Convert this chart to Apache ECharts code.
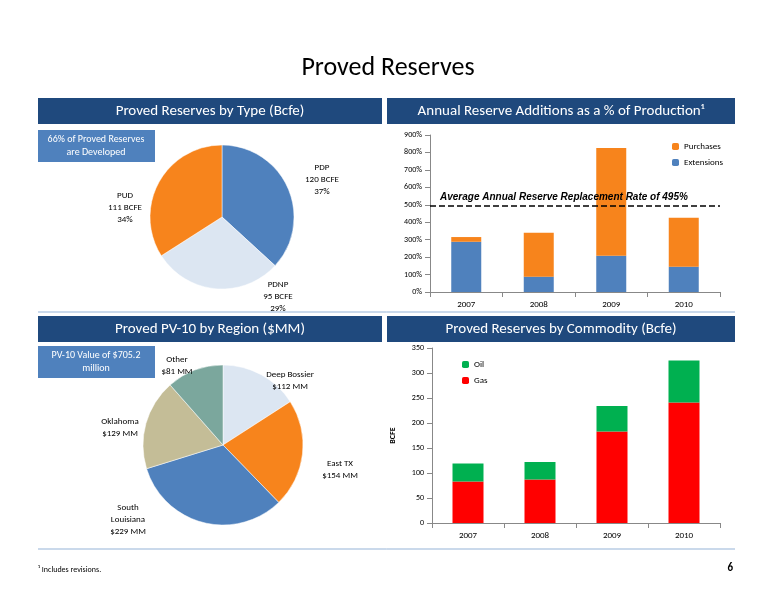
<!DOCTYPE html>
<html><head><meta charset="utf-8">
<script src="https://cdn.jsdelivr.net/npm/echarts@6/dist/echarts.min.js"></script>
<style>html,body{margin:0;padding:0;background:#fff}#main{width:776px;height:600px}</style>
</head><body><div id="main"></div>
<script>
var years = ['2007', '2008', '2009', '2010'];
var extensions = [288, 88, 208, 145];
var purchases = [27, 252, 617, 280];
var gas = [83, 87, 183, 241];
var oil = [36, 35, 51, 84];
var typeNames = ['PDP', 'PDNP', 'PUD'];
var typeValues = [120, 95, 111];
var regionNames = ['Deep Bossier', 'East TX', 'South Louisiana', 'Oklahoma', 'Other'];
var regionValues = [112, 154, 229, 129, 81];

var chartDom = document.getElementById('main');
var myChart = echarts.init(chartDom);
var font = 'Carlito, "Open Sans", sans-serif';
var navy = '#1F497D';

function header(x, y, w, text) {
    return [
        { type: 'rect', shape: { x: x, y: y, width: w, height: 26 }, style: { fill: navy } },
        { type: 'text', x: x + w / 2, y: y + 13, style: { text: text, fill: '#fff', font: '15px ' + font, align: 'center', verticalAlign: 'middle' } }
    ];
}
var typeLabelPos = [[322, 180], [278, 297], [125, 208]];
var regionLabelPos = [[290, 381], [340, 470], [128, 520], [120, 428], [177, 366]];
var typeTotal = typeValues.reduce(function (a, b) { return a + b; }, 0);

var option = {
    animation: false,
    textStyle: { fontFamily: font },
    graphic: [].concat(
        [{ type: 'text', x: 388, y: 68, style: { text: 'Proved Reserves', font: '26px ' + font, fill: '#000', align: 'center', verticalAlign: 'middle' } }],
        header(38, 98, 344, 'Proved Reserves by Type (Bcfe)'),
        header(387, 98, 348, 'Annual Reserve Additions as a % of Production¹'),
        header(38, 316, 344, 'Proved PV-10 by Region ($MM)'),
        header(387, 316, 348, 'Proved Reserves by Commodity (Bcfe)'),
        [
            { type: 'rect', shape: { x: 38, y: 130, width: 117, height: 32 }, style: { fill: '#4F81BD' } },
            { type: 'text', x: 96, y: 146, style: { text: '66% of Proved Reserves\nare Developed', fill: '#fff', font: '10px ' + font, align: 'center', verticalAlign: 'middle', lineHeight: 13 } },
            { type: 'rect', shape: { x: 38, y: 346, width: 117, height: 32 }, style: { fill: '#4F81BD' } },
            { type: 'text', x: 96, y: 362, style: { text: 'PV-10 Value of $705.2\nmillion', fill: '#fff', font: '10px ' + font, align: 'center', verticalAlign: 'middle', lineHeight: 13 } },
            { type: 'line', shape: { x1: 38, y1: 312, x2: 735, y2: 312 }, style: { stroke: '#95B3D7', lineWidth: 1 } },
            { type: 'line', shape: { x1: 38, y1: 549, x2: 735, y2: 549 }, style: { stroke: '#95B3D7', lineWidth: 1 } },
            { type: 'text', z: 100, x: 440, y: 197, style: { text: 'Average Annual Reserve Replacement Rate of 495%', font: 'italic bold 10px Arial, sans-serif', fill: '#000', verticalAlign: 'middle' } },
            { type: 'text', x: 38, y: 570, style: { text: '¹ Includes revisions.', font: '8px ' + font, fill: '#000', verticalAlign: 'middle' } },
            { type: 'text', x: 733, y: 568, style: { text: '6', font: 'bold 11px ' + font, fill: '#000', align: 'right', verticalAlign: 'middle' } }
        ]
    ),
    legend: [
        { data: ['Purchases', 'Extensions'], orient: 'vertical', left: 667, top: 137, itemWidth: 7, itemHeight: 7, itemGap: 7, textStyle: { fontSize: 9, fontFamily: font, color: '#000' } },
        { data: ['Oil', 'Gas'], orient: 'vertical', left: 457, top: 355, itemWidth: 7, itemHeight: 7, itemGap: 7, textStyle: { fontSize: 9, fontFamily: font, color: '#000' } }
    ],
    grid: [
        { left: 430, top: 135, width: 290, height: 157 },
        { left: 432, top: 348, width: 288, height: 175 }
    ],
    xAxis: [
        { type: 'category', gridIndex: 0, data: years, axisTick: { show: true, lineStyle: { color: '#888' } }, axisLine: { lineStyle: { color: '#888' } }, axisLabel: { color: '#000', fontSize: 9, margin: 8 } },
        { type: 'category', gridIndex: 1, data: years, axisTick: { show: true, lineStyle: { color: '#888' } }, axisLine: { lineStyle: { color: '#888' } }, axisLabel: { color: '#000', fontSize: 9, margin: 8 } }
    ],
    yAxis: [
        { type: 'value', gridIndex: 0, min: 0, max: 900, interval: 100, splitLine: { show: false }, axisLine: { show: true, lineStyle: { color: '#888' } }, axisTick: { show: true }, axisLabel: { formatter: '{value}%', color: '#000', fontSize: 8 } },
        { type: 'value', gridIndex: 1, min: 0, max: 350, interval: 50, splitLine: { show: false }, axisLine: { show: true, lineStyle: { color: '#888' } }, axisTick: { show: true }, axisLabel: { color: '#000', fontSize: 8 },
          name: 'BCFE', nameLocation: 'middle', nameGap: 35, nameTextStyle: { fontSize: 8, fontWeight: 'bold', color: '#000' } }
    ],
    series: [
        { name: 'Extensions', type: 'bar', stack: 'a', xAxisIndex: 0, yAxisIndex: 0, data: extensions, barWidth: 30, itemStyle: { color: '#4F81BD' },
          markLine: { silent: true, symbol: 'none', label: { show: false }, lineStyle: { color: '#000', type: [6, 3], width: 1.5 }, data: [{ yAxis: 495 }] } },
        { name: 'Purchases', type: 'bar', stack: 'a', xAxisIndex: 0, yAxisIndex: 0, data: purchases, barWidth: 30, itemStyle: { color: '#F7841C' } },
        { name: 'Gas', type: 'bar', stack: 'b', xAxisIndex: 1, yAxisIndex: 1, data: gas, barWidth: 31, itemStyle: { color: '#FF0000' } },
        { name: 'Oil', type: 'bar', stack: 'b', xAxisIndex: 1, yAxisIndex: 1, data: oil, barWidth: 31, itemStyle: { color: '#00B050' } },
        { type: 'pie', center: [222, 217], radius: 72, startAngle: 90, clockwise: true,
          itemStyle: { borderColor: '#fff', borderWidth: 0.5 },
          color: ['#4F81BD', '#DCE6F2', '#F7841C'],
          data: typeNames.map(function (n, i) { return { name: n, value: typeValues[i] }; }),
          label: { show: true, fontSize: 9, lineHeight: 12, align: 'center', color: '#000',
                   formatter: function (p) { return p.name + '\n' + p.value + ' BCFE\n' + Math.round(p.value / typeTotal * 100) + '%'; } },
          labelLine: { show: false },
          labelLayout: function (p) { var q = typeLabelPos[p.dataIndex]; return { x: q[0], y: q[1], align: 'center', verticalAlign: 'middle' }; } },
        { type: 'pie', center: [223, 445], radius: 80, startAngle: 90, clockwise: true,
          itemStyle: { borderColor: '#fff', borderWidth: 0.5 },
          color: ['#DCE6F2', '#F7841C', '#4F81BD', '#C4BD97', '#7BA79D'],
          data: regionNames.map(function (n, i) { return { name: n, value: regionValues[i] }; }),
          label: { show: true, fontSize: 9, lineHeight: 12, color: '#000',
                   formatter: function (p) { return (p.name === 'South Louisiana' ? 'South\nLouisiana' : p.name) + '\n$' + p.value + ' MM'; } },
          labelLine: { show: false },
          labelLayout: function (p) { var q = regionLabelPos[p.dataIndex]; return { x: q[0], y: q[1], align: 'center', verticalAlign: 'middle' }; } }
    ]
};
option && myChart.setOption(option);
</script>
</body></html>
